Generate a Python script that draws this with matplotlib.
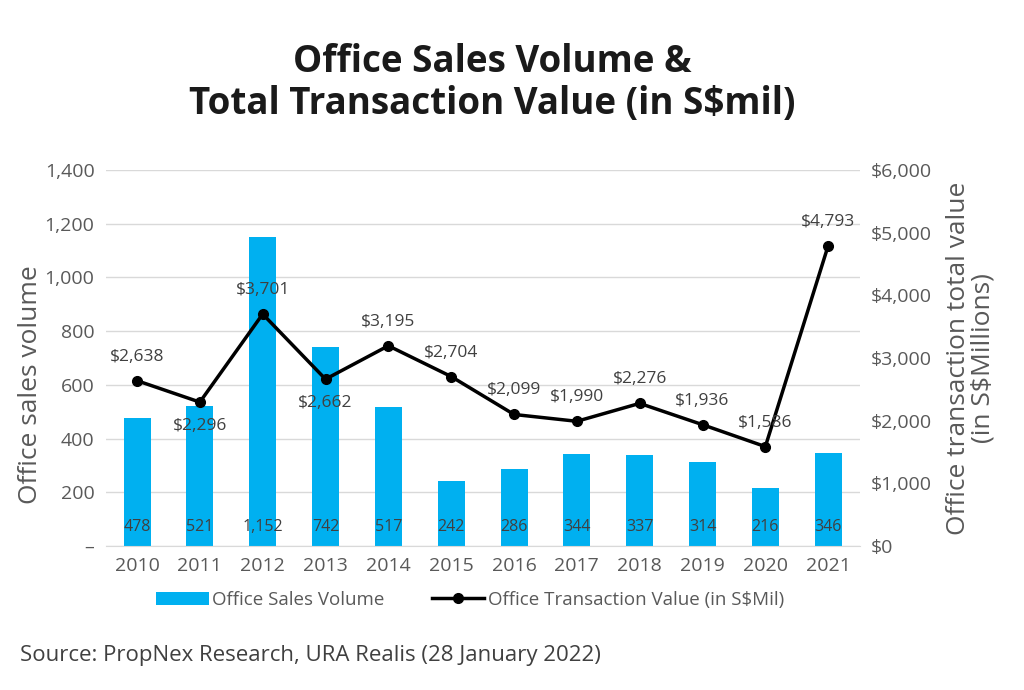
import matplotlib
matplotlib.use("Agg")
import matplotlib.pyplot as plt
from matplotlib.ticker import FuncFormatter

years = ["2010", "2011", "2012", "2013", "2014", "2015", "2016", "2017", "2018", "2019", "2020", "2021"]
volume = [478, 521, 1152, 742, 517, 242, 286, 344, 337, 314, 216, 346]
value = [2638, 2296, 3701, 2662, 3195, 2704, 2099, 1990, 2276, 1936, 1586, 4793]
label_below = [False, True, False, True, False, False, False, False, False, False, False, False]

plt.rcParams['font.family'] = ['Open Sans', 'DejaVu Sans']
gray = "#595959"

fig = plt.figure(figsize=(10.24, 6.9), dpi=100)
ax = fig.add_axes([105.6/1024, 1-546/690, 754/1024, 376/690])
ax2 = ax.twinx()

x = list(range(len(years)))
ax.bar(x, volume, width=0.43, color="#00B0F0", zorder=2, label="Office Sales Volume")
ax.set_xlim(-0.5, len(years)-0.5)
ax.set_ylim(0, 1400)
ax.set_yticks(range(0, 1401, 200))
ax.yaxis.set_major_formatter(FuncFormatter(lambda v, p: "–" if v == 0 else f"{int(v):,}"))
ax.set_xticks(x)
ax.set_xticklabels(years)
ax.grid(axis="y", color="#d9d9d9", lw=1, zorder=0)
ax.set_axisbelow(True)
for s in ["top", "right", "left"]:
    ax.spines[s].set_visible(False)
ax.spines["bottom"].set_color("#d9d9d9")
ax.tick_params(axis="both", length=0, labelsize=14, colors=gray, pad=8)
ax.set_ylabel("Office sales volume", fontsize=19, color=gray)
ax.yaxis.set_label_coords(-0.083, 0.43)

for xi, v in zip(x, volume):
    ax.text(xi, 70, f"{v:,}", ha="center", va="center", fontsize=11.5, color="#404040", zorder=5)

ax2.plot(x, value, color="black", lw=2.5, marker="o", ms=7, zorder=4,
         label="Office Transaction Value (in S$Mil)")
ax2.set_ylim(0, 6000)
ax2.set_yticks(range(0, 6001, 1000))
ax2.yaxis.set_major_formatter(FuncFormatter(lambda v, p: f"${int(v):,}"))
for s in ["top", "right", "left", "bottom"]:
    ax2.spines[s].set_visible(False)
ax2.tick_params(axis="y", length=0, labelsize=14, colors=gray, pad=8)
ax2.set_ylabel("Office transaction total value\n(in S$Millions)", fontsize=19, color=gray,
               labelpad=10, linespacing=1.0)

for xi, v, b in zip(x, value, label_below):
    off = -24 if b else 24
    ax2.annotate(f"${v:,}", (xi, v), xytext=(0, off), textcoords="offset pixels",
                 ha="center", va="center", fontsize=12.5, color="#404040", zorder=6)

h1, l1 = ax.get_legend_handles_labels()
h2, l2 = ax2.get_legend_handles_labels()
fig.legend(h1 + h2, l1 + l2, loc="center", bbox_to_anchor=(470/1024, 1-600/690), ncol=2,
           frameon=False, fontsize=13.5, labelcolor=gray, handlelength=2.8, handletextpad=0.2,
           columnspacing=2.5)

fig.text(492/1024, 1-83/690, "Office Sales Volume &\nTotal Transaction Value (in S$mil)",
         ha="center", va="center", fontsize=26.5, fontweight="bold", color="#1a1a1a",
         linespacing=1.12)
fig.text(20/1024, 1-655/690, "Source: PropNex Research, URA Realis (28 January 2022)",
         ha="left", va="center", fontsize=16, color="#404040")

fig.savefig("out.png", dpi=100)
